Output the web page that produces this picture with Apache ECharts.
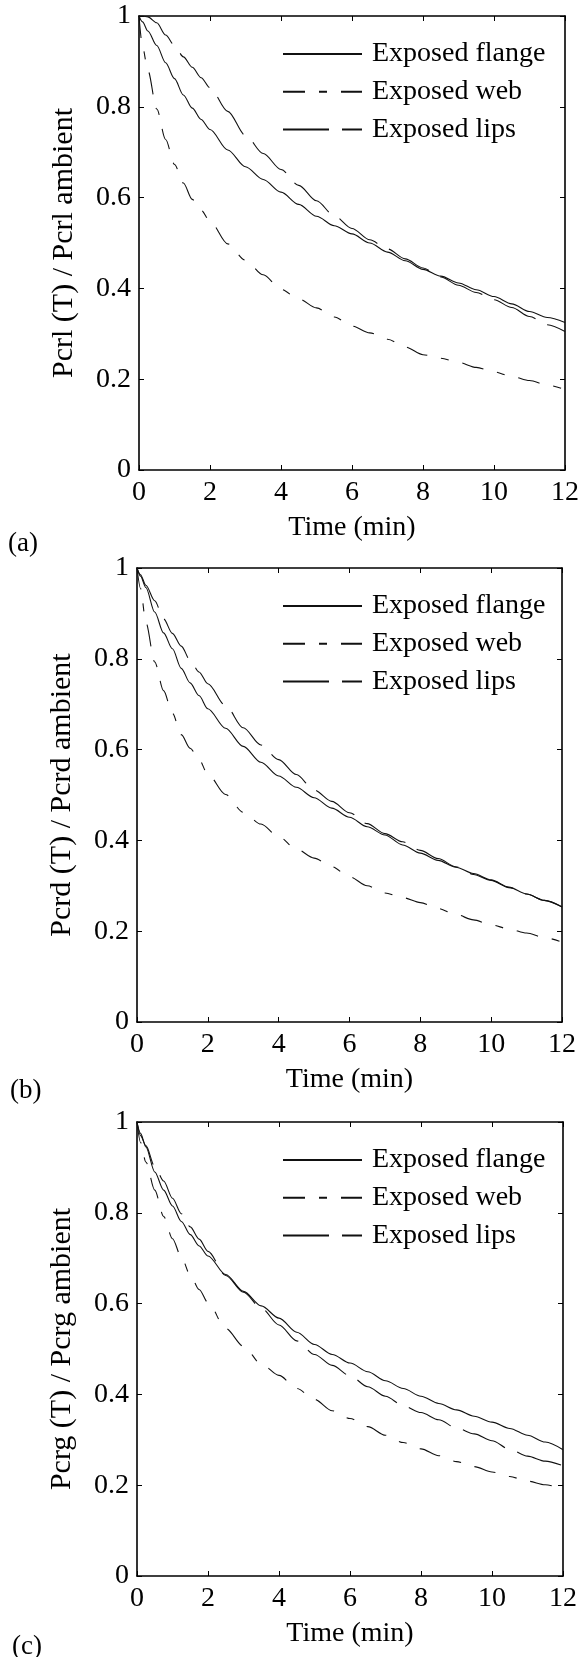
<!DOCTYPE html>
<html>
<head>
<meta charset="utf-8">
<script src="https://cdn.jsdelivr.net/npm/echarts@6/dist/echarts.min.js"></script>
<style>
html,body{margin:0;padding:0;background:#fff;}
#chart{width:582px;height:1657px;}
</style>
</head>
<body>
<div id="chart"></div>
<script>
// ---- data ----
const times = [0,0.1,0.25,0.5,0.75,1,1.25,1.5,1.75,2,2.5,3,3.5,4,4.5,5,5.5,6,6.5,7,7.5,8,8.5,9,9.5,10,10.5,11,11.5,12];
const xTicks = [0,2,4,6,8,10,12];
const yTicks = [0,0.2,0.4,0.6,0.8,1];
const seriesNames = ['Exposed flange','Exposed web','Exposed lips'];
const yTitles = ['Pcrl (T) / Pcrl ambient','Pcrd (T) / Pcrd ambient','Pcrg (T) / Pcrg ambient'];
const panelLabels = ['(a)','(b)','(c)'];

const flangeA = [1.0,0.987,0.967,0.935,0.897,0.862,0.826,0.797,0.772,0.75,0.705,0.668,0.64,0.612,0.585,0.559,0.538,0.52,0.5,0.48,0.461,0.442,0.427,0.412,0.397,0.382,0.366,0.349,0.336,0.325];
const webA    = [1.0,0.932,0.88,0.795,0.728,0.673,0.632,0.596,0.572,0.548,0.498,0.462,0.43,0.398,0.377,0.357,0.337,0.317,0.302,0.288,0.271,0.254,0.246,0.237,0.226,0.216,0.206,0.197,0.187,0.177];
const lipsA   = [1.0,1.0,0.998,0.985,0.958,0.935,0.91,0.887,0.864,0.842,0.79,0.737,0.697,0.662,0.627,0.593,0.56,0.532,0.507,0.487,0.465,0.445,0.425,0.407,0.391,0.375,0.358,0.338,0.32,0.305];

const flangeB = [1.0,0.982,0.957,0.903,0.857,0.822,0.779,0.747,0.719,0.69,0.647,0.607,0.572,0.542,0.517,0.494,0.471,0.451,0.43,0.412,0.39,0.372,0.356,0.341,0.327,0.313,0.297,0.282,0.268,0.254];
const webB    = [1.0,0.955,0.88,0.793,0.73,0.68,0.633,0.603,0.578,0.546,0.501,0.462,0.436,0.408,0.381,0.361,0.342,0.32,0.3,0.284,0.274,0.263,0.25,0.237,0.225,0.214,0.205,0.196,0.186,0.176];
const lipsB   = [1.0,0.985,0.962,0.928,0.888,0.856,0.828,0.797,0.771,0.745,0.697,0.648,0.61,0.578,0.545,0.511,0.486,0.461,0.437,0.415,0.397,0.378,0.36,0.342,0.325,0.312,0.296,0.282,0.268,0.253];

const flangeC = [1.0,0.975,0.945,0.89,0.85,0.815,0.781,0.752,0.727,0.705,0.664,0.627,0.595,0.568,0.537,0.51,0.488,0.469,0.45,0.43,0.413,0.396,0.38,0.366,0.352,0.339,0.325,0.31,0.295,0.278];
const webC    = [1.0,0.955,0.912,0.85,0.792,0.743,0.702,0.663,0.631,0.602,0.545,0.506,0.467,0.442,0.413,0.389,0.364,0.347,0.329,0.31,0.294,0.28,0.265,0.252,0.241,0.229,0.219,0.209,0.201,0.192];
const lipsC   = [1.0,0.97,0.948,0.902,0.87,0.832,0.798,0.769,0.742,0.715,0.662,0.625,0.59,0.553,0.518,0.488,0.464,0.441,0.417,0.396,0.375,0.36,0.344,0.326,0.313,0.298,0.279,0.264,0.253,0.243];

const panels = [
  {flange: flangeA, web: webA, lips: lipsA},
  {flange: flangeB, web: webB, lips: lipsB},
  {flange: flangeC, web: webC, lips: lipsC}
];

// ---- layout / style ----
const FONT = '"Liberation Serif","Times New Roman",Times,serif';
const grids = [
  {left:139, top:16, width:427, height:454},
  {left:137, top:568, width:425, height:454},
  {left:137, top:1122, width:426, height:454}
];
const labelPos = [[8,544],[10,1091],[12,1647]];
const dashStyles = {
  flange: 'solid',
  web: [22,14,8,14],
  lips: [46,13]
};
const axisLine = {show:true, onZero:false, lineStyle:{color:'#000', width:1.6}};
const axisTick = {show:true, inside:true, length:5, lineStyle:{color:'#000', width:1}};

const xAxes = [], yAxes = [], series = [], legends = [], graphics = [];
grids.forEach((g, i) => {
  const common = {type:'value', gridIndex:i, splitLine:{show:false}, axisLine, axisTick};
  xAxes.push(Object.assign({}, common, {
    position:'bottom', min:xTicks[0], max:xTicks[xTicks.length-1], interval:xTicks[1]-xTicks[0],
    name:'Time (min)', nameLocation:'middle', nameGap:44,
    nameTextStyle:{fontFamily:FONT, fontSize:28, color:'#000'},
    axisLabel:{show:true, margin:9, fontFamily:FONT, fontSize:28, color:'#000'}
  }));
  xAxes.push(Object.assign({}, common, {
    position:'top', min:xTicks[0], max:xTicks[xTicks.length-1], interval:xTicks[1]-xTicks[0],
    axisLabel:{show:false}
  }));
  yAxes.push(Object.assign({}, common, {
    position:'left', min:yTicks[0], max:yTicks[yTicks.length-1], interval:0.2,
    name:yTitles[i], nameLocation:'middle', nameGap:60,
    nameTextStyle:{fontFamily:FONT, fontSize:30, color:'#000'},
    axisLabel:{show:true, margin:8, fontFamily:FONT, fontSize:28, color:'#000',
      formatter: v => (Math.abs(v) < 1e-9 ? '0' : (Math.abs(v-1) < 1e-9 ? '1' : v.toFixed(1)))}
  }));
  yAxes.push(Object.assign({}, common, {
    position:'right', min:yTicks[0], max:yTicks[yTicks.length-1], interval:0.2,
    axisLabel:{show:false}
  }));
  const p = panels[i];
  [['flange', seriesNames[0]], ['web', seriesNames[1]], ['lips', seriesNames[2]]].forEach(([key, name]) => {
    series.push({
      type:'line', name, xAxisIndex:i*2, yAxisIndex:i*2,
      data: times.map((t, k) => [t, p[key][k]]),
      symbol:'none', smooth:0.3, smoothMonotone:'x', silent:true, animation:false,
      color:'#111',
      itemStyle:{color:'#111'},
      lineStyle:{color:'#111', width:1.1, type:dashStyles[key]}
    });
  });
  legends.push({
    orient:'vertical', left:282, top:g.top+24, padding:0,
    itemWidth:79, itemHeight:14, itemGap:9.7,
    selectedMode:false, data:seriesNames.slice(),
    itemStyle:{opacity:0},
    textStyle:{fontFamily:FONT, fontSize:28, color:'#000', lineHeight:28, padding:[0,0,0,5]}
  });
  graphics.push({
    type:'text', left:labelPos[i][0], top:labelPos[i][1]-14,
    style:{text:panelLabels[i], font:'27px ' + FONT, fill:'#000'}
  });
});

const chart = echarts.init(document.getElementById('chart'), null, {renderer:'canvas'});
chart.setOption({
  animation:false,
  backgroundColor:'#fff',
  grid: grids,
  xAxis: xAxes,
  yAxis: yAxes,
  legend: legends,
  series,
  graphic: graphics
});
</script>
</body>
</html>
